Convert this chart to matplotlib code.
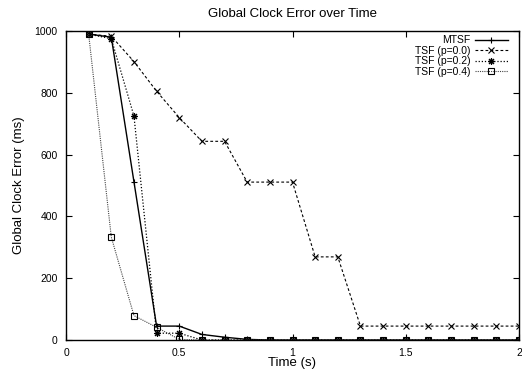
import matplotlib
matplotlib.use("Agg")
import matplotlib.pyplot as plt

plt.rcParams['font.family'] = ['Liberation Sans', 'DejaVu Sans']

time = [0.1, 0.2, 0.3, 0.4, 0.5, 0.6, 0.7, 0.8, 0.9, 1.0,
        1.1, 1.2, 1.3, 1.4, 1.5, 1.6, 1.7, 1.8, 1.9, 2.0]

mtsf = [990, 980, 512, 45, 45, 18, 9, 2, 0, 0,
        0, 0, 0, 0, 0, 0, 0, 0, 0, 0]
tsf_00 = [990, 983, 901, 805, 720, 643, 643, 511, 511, 511,
          269, 269, 45, 45, 45, 45, 45, 45, 45, 45]
tsf_02 = [990, 975, 725, 22, 22, 0, 0, 0, 0, 0,
          0, 0, 0, 0, 0, 0, 0, 0, 0, 0]
tsf_04 = [990, 333, 79, 41, 2, 0, 0, 0, 0, 0,
          0, 0, 0, 0, 0, 0, 0, 0, 0, 0]

fig = plt.figure(figsize=(5.22, 3.71), dpi=100)
ax = fig.add_axes([66 / 522, 31 / 371, 453 / 522, 309 / 371])

ax.plot(time, mtsf, color='black', lw=1.0, ls='-', marker='+', ms=5, mew=0.8, label='MTSF')
ax.plot(time, tsf_00, color='black', lw=0.8, ls=(0, (2.5, 2)), marker='x', ms=4, mew=0.8,
        label='TSF (p=0.0)')
ax.plot(time, tsf_02, color='black', lw=0.9, ls=(0, (1, 1.5)), marker=(8, 2, 0), ms=5, mew=0.8,
        label='TSF (p=0.2)')
ax.plot(time, tsf_04, color='#444444', lw=0.8, ls=(0, (1, 1)), marker='s', ms=4, mew=0.8,
        mfc='none', mec='black', label='TSF (p=0.4)')

ax.set_xlim(0, 2)
ax.set_ylim(0, 1000)
ax.set_xticks([0, 0.5, 1, 1.5, 2])
ax.set_xticklabels(['0', '0.5', '1', '1.5', '2'])
ax.set_yticks([0, 200, 400, 600, 800, 1000])
ax.tick_params(direction='in', top=True, right=True, labelsize=7.5, length=4, width=0.8, pad=6)
for s in ax.spines.values():
    s.set_linewidth(1.0)

ax.set_title('Global Clock Error over Time', fontsize=9.5, pad=10)
ax.set_xlabel('Time (s)', fontsize=9.5, labelpad=-1)
ax.set_ylabel('Global Clock Error (ms)', fontsize=9.5, labelpad=7)

ax.legend(loc='upper right', bbox_to_anchor=(0.985, 1.0), frameon=False, markerfirst=False,
          fontsize=7.5, handlelength=3.2, handletextpad=0.4, labelspacing=0.05,
          borderaxespad=0)

fig.savefig('out.png', dpi=100)
